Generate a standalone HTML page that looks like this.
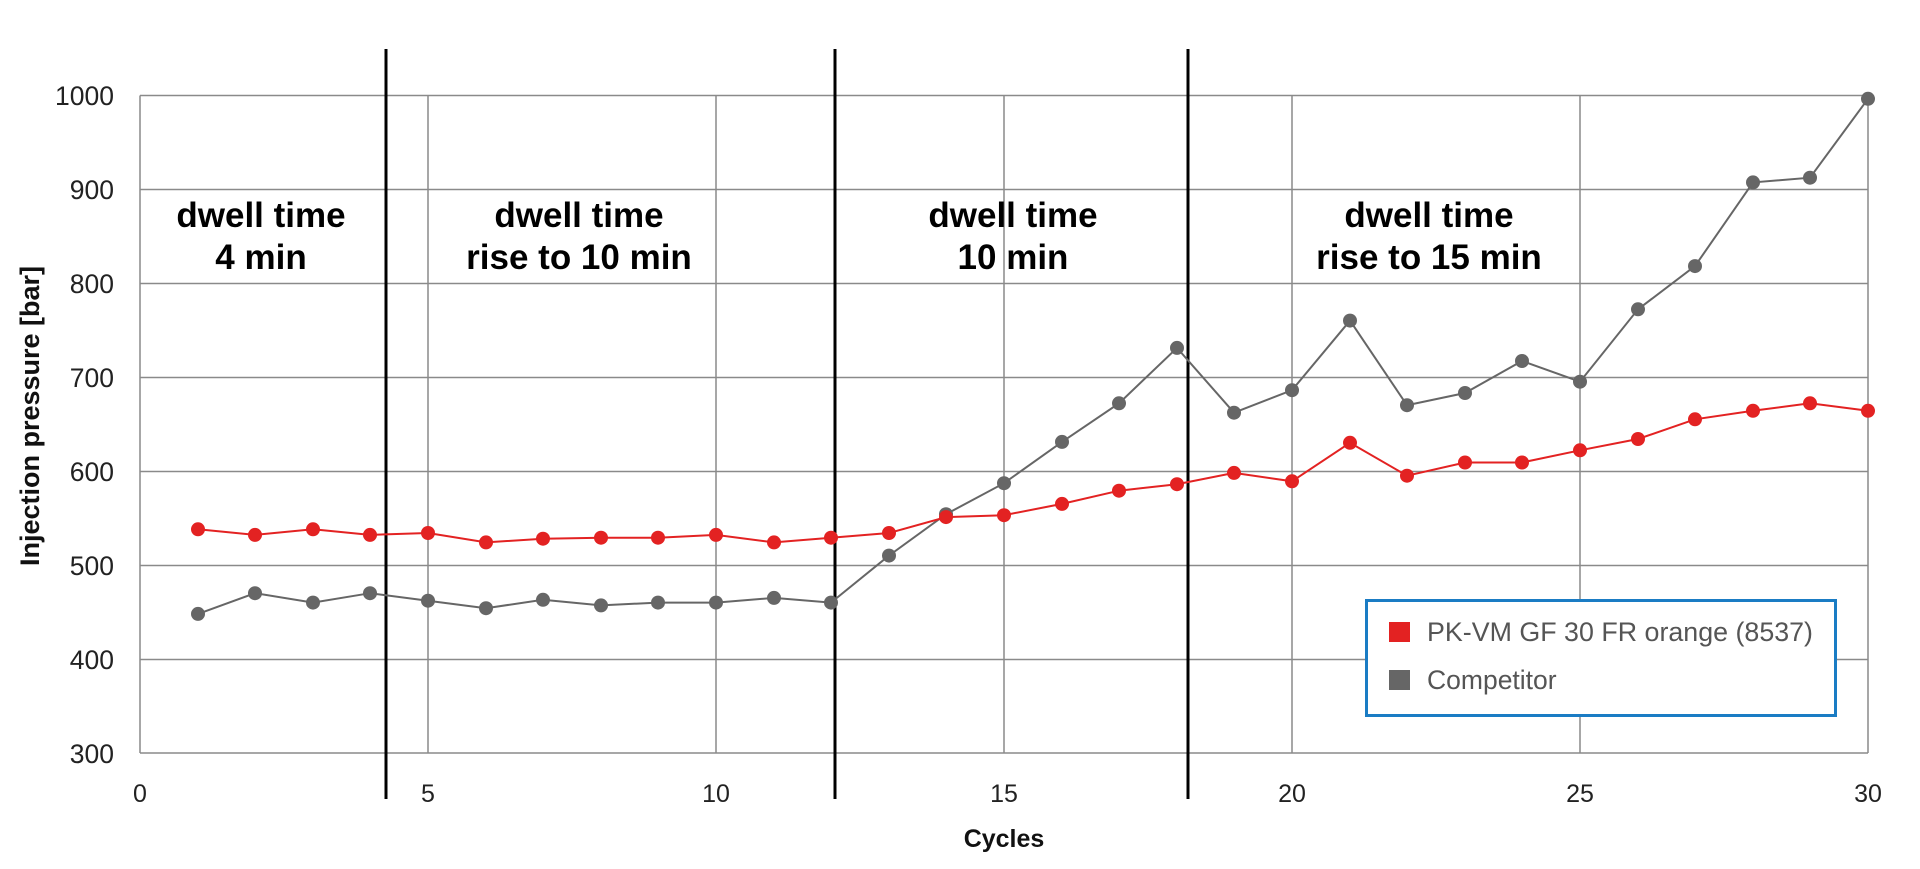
<!DOCTYPE html>
<html><head><meta charset="utf-8"><style>
html,body{margin:0;padding:0;background:#fff;}
svg{display:block;font-family:"Liberation Sans","DejaVu Sans",sans-serif;}
</style></head><body>
<svg width="1920" height="869" viewBox="0 0 1920 869" xmlns="http://www.w3.org/2000/svg">
<g stroke="#8a8a8a" stroke-width="1.5">
<line x1="140" y1="95.5" x2="1868" y2="95.5"/>
<line x1="140" y1="189.5" x2="1868" y2="189.5"/>
<line x1="140" y1="283.5" x2="1868" y2="283.5"/>
<line x1="140" y1="377.5" x2="1868" y2="377.5"/>
<line x1="140" y1="471.5" x2="1868" y2="471.5"/>
<line x1="140" y1="565.5" x2="1868" y2="565.5"/>
<line x1="140" y1="659.5" x2="1868" y2="659.5"/>
<line x1="140" y1="753" x2="1868" y2="753"/>
<line x1="140" y1="95.5" x2="140" y2="753"/>
<line x1="428" y1="95.5" x2="428" y2="753"/>
<line x1="716" y1="95.5" x2="716" y2="753"/>
<line x1="1004" y1="95.5" x2="1004" y2="753"/>
<line x1="1292" y1="95.5" x2="1292" y2="753"/>
<line x1="1580" y1="95.5" x2="1580" y2="753"/>
<line x1="1868" y1="95.5" x2="1868" y2="753"/>
</g>
<g stroke="#000" stroke-width="3">
<line x1="386" y1="49" x2="386" y2="799"/>
<line x1="835" y1="49" x2="835" y2="799"/>
<line x1="1188" y1="49" x2="1188" y2="799"/>
</g>
<g font-size="26.5" fill="#222" text-anchor="end">
<text x="114" y="105">1000</text><text x="114" y="199">900</text><text x="114" y="293">800</text>
<text x="114" y="387">700</text><text x="114" y="481">600</text><text x="114" y="575">500</text>
<text x="114" y="669">400</text><text x="114" y="763">300</text>
</g>
<g font-size="25" fill="#222" text-anchor="middle">
<text x="140" y="802">0</text><text x="428" y="802">5</text><text x="716" y="802">10</text>
<text x="1004" y="802">15</text><text x="1292" y="802">20</text><text x="1580" y="802">25</text><text x="1868" y="802">30</text>
</g>
<text x="1004" y="847" font-size="25" font-weight="bold" text-anchor="middle" fill="#111">Cycles</text>
<text transform="translate(39,416) rotate(-90)" font-size="27" font-weight="bold" text-anchor="middle" fill="#111">Injection pressure [bar]</text>
<g font-size="35" font-weight="bold" text-anchor="middle" fill="#000">
<text x="261" y="227">dwell time</text><text x="261" y="269">4 min</text>
<text x="579" y="227">dwell time</text><text x="579" y="269">rise to 10 min</text>
<text x="1013" y="227">dwell time</text><text x="1013" y="269">10 min</text>
<text x="1429" y="227">dwell time</text><text x="1429" y="269">rise to 15 min</text>
</g>
<polyline fill="none" stroke="#666" stroke-width="2" points="198,613.9 255,593.2 313,602.6 370,593.2 428,600.7 486,608.2 543,599.8 601,605.4 658,602.6 716,602.6 774,597.9 831,602.6 889,555.6 946,514.2 1004,483.2 1062,441.9 1119,403.3 1177,347.9 1234,412.7 1292,390.2 1350,320.6 1407,405.2 1465,393 1522,361 1580,381.7 1638,309.3 1695,266.1 1753,182.4 1810,177.7 1868,98.8"/>
<g fill="#666">
<circle cx="198" cy="613.9" r="7"/><circle cx="255" cy="593.2" r="7"/><circle cx="313" cy="602.6" r="7"/><circle cx="370" cy="593.2" r="7"/><circle cx="428" cy="600.7" r="7"/><circle cx="486" cy="608.2" r="7"/><circle cx="543" cy="599.8" r="7"/><circle cx="601" cy="605.4" r="7"/><circle cx="658" cy="602.6" r="7"/><circle cx="716" cy="602.6" r="7"/><circle cx="774" cy="597.9" r="7"/><circle cx="831" cy="602.6" r="7"/><circle cx="889" cy="555.6" r="7"/><circle cx="946" cy="514.2" r="7"/><circle cx="1004" cy="483.2" r="7"/><circle cx="1062" cy="441.9" r="7"/><circle cx="1119" cy="403.3" r="7"/><circle cx="1177" cy="347.9" r="7"/><circle cx="1234" cy="412.7" r="7"/><circle cx="1292" cy="390.2" r="7"/><circle cx="1350" cy="320.6" r="7"/><circle cx="1407" cy="405.2" r="7"/><circle cx="1465" cy="393" r="7"/><circle cx="1522" cy="361" r="7"/><circle cx="1580" cy="381.7" r="7"/><circle cx="1638" cy="309.3" r="7"/><circle cx="1695" cy="266.1" r="7"/><circle cx="1753" cy="182.4" r="7"/><circle cx="1810" cy="177.7" r="7"/><circle cx="1868" cy="98.8" r="7"/>
</g>
<polyline fill="none" stroke="#e32222" stroke-width="2" points="198,529.3 255,534.9 313,529.3 370,534.9 428,533 486,542.4 543,538.7 601,537.7 658,537.7 716,534.9 774,542.4 831,537.7 889,533 946,517.1 1004,515.2 1062,503.9 1119,490.7 1177,484.2 1234,472.9 1292,481.3 1350,442.8 1407,475.7 1465,462.5 1522,462.5 1580,450.3 1638,439 1695,419.3 1753,410.8 1810,403.3 1868,410.8"/>
<g fill="#e32222">
<circle cx="198" cy="529.3" r="7"/><circle cx="255" cy="534.9" r="7"/><circle cx="313" cy="529.3" r="7"/><circle cx="370" cy="534.9" r="7"/><circle cx="428" cy="533" r="7"/><circle cx="486" cy="542.4" r="7"/><circle cx="543" cy="538.7" r="7"/><circle cx="601" cy="537.7" r="7"/><circle cx="658" cy="537.7" r="7"/><circle cx="716" cy="534.9" r="7"/><circle cx="774" cy="542.4" r="7"/><circle cx="831" cy="537.7" r="7"/><circle cx="889" cy="533" r="7"/><circle cx="946" cy="517.1" r="7"/><circle cx="1004" cy="515.2" r="7"/><circle cx="1062" cy="503.9" r="7"/><circle cx="1119" cy="490.7" r="7"/><circle cx="1177" cy="484.2" r="7"/><circle cx="1234" cy="472.9" r="7"/><circle cx="1292" cy="481.3" r="7"/><circle cx="1350" cy="442.8" r="7"/><circle cx="1407" cy="475.7" r="7"/><circle cx="1465" cy="462.5" r="7"/><circle cx="1522" cy="462.5" r="7"/><circle cx="1580" cy="450.3" r="7"/><circle cx="1638" cy="439" r="7"/><circle cx="1695" cy="419.3" r="7"/><circle cx="1753" cy="410.8" r="7"/><circle cx="1810" cy="403.3" r="7"/><circle cx="1868" cy="410.8" r="7"/>
</g>
<rect x="1366.5" y="600.5" width="469" height="115" fill="#fff" stroke="#1a7cc4" stroke-width="3"/>
<rect x="1389" y="622" width="21" height="20" fill="#e32222"/>
<rect x="1389" y="670" width="21" height="20" fill="#666"/>
<text x="1427" y="641" font-size="26.5" fill="#555" textLength="386" lengthAdjust="spacingAndGlyphs">PK-VM GF 30 FR orange (8537)</text>
<text x="1427" y="689" font-size="26.5" fill="#555">Competitor</text>
</svg>
</body></html>
